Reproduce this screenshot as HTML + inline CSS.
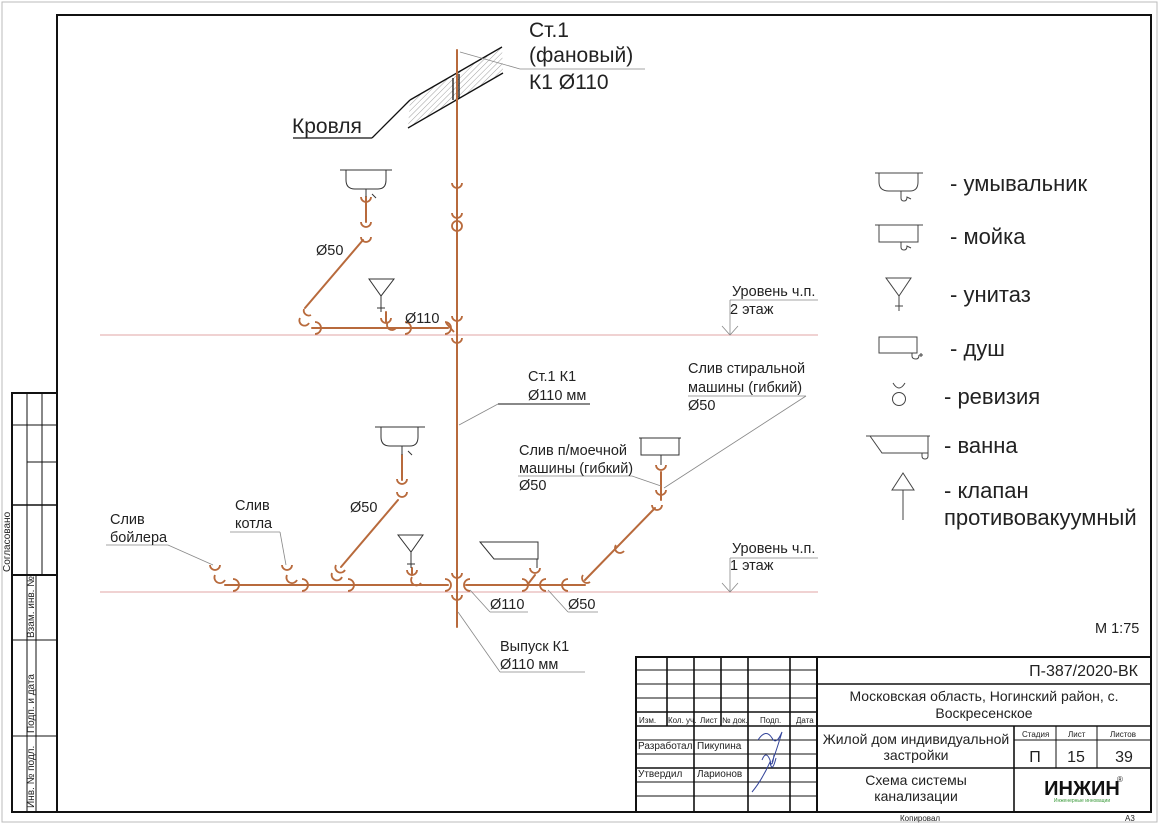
<!DOCTYPE html>
<html><head><meta charset="utf-8"><style>
html,body{margin:0;padding:0;background:#fff}
svg{display:block}
text{font-family:"Liberation Sans",sans-serif;fill:#222}
</style></head><body>
<svg width="1166" height="824" viewBox="0 0 1166 824" xmlns="http://www.w3.org/2000/svg">
<defs>
<pattern id="h" width="4" height="4" patternUnits="userSpaceOnUse" patternTransform="rotate(45)"><line x1="0" y1="0" x2="0" y2="4" stroke="#777" stroke-width="0.7"/></pattern>
</defs>
<rect x="0" y="0" width="1166" height="824" fill="#fff"/>
<rect x="2" y="2" width="1155" height="820" fill="none" stroke="#bbb" stroke-width="1"/>
<path d="M57 15 H1151 V812 H12 V393 H57 Z" fill="none" stroke="#111" stroke-width="2"/>
<line x1="57" y1="15" x2="57" y2="812" stroke="#111" stroke-width="2"/>
<g stroke="#111" stroke-width="1" fill="none">
<line x1="27" y1="393" x2="27" y2="812"/>
<line x1="42" y1="393" x2="42" y2="575"/>
<line x1="12" y1="575" x2="57" y2="575" stroke-width="2"/>
<line x1="12" y1="425" x2="57" y2="425"/>
<line x1="27" y1="462" x2="57" y2="462"/>
<line x1="12" y1="505" x2="57" y2="505" stroke-width="1.5"/>
<line x1="12" y1="640" x2="57" y2="640"/>
<line x1="12" y1="736" x2="57" y2="736"/>
<line x1="36" y1="575" x2="36" y2="812"/>
</g>
<g font-size="10">
<text transform="translate(10,572) rotate(-90)">Согласовано</text>
<text transform="translate(34,638) rotate(-90)">Взам. инв. №</text>
<text transform="translate(34,733) rotate(-90)">Подп. и дата</text>
<text transform="translate(34,808) rotate(-90)">Инв. № подл.</text>
</g>

<line x1="100" y1="335" x2="818" y2="335" stroke="#e2a6a6" stroke-width="1"/>
<line x1="100" y1="592" x2="818" y2="592" stroke="#e2a6a6" stroke-width="1"/>

<path d="M410 100 L502 47 L503 72 L408 128 Z" fill="url(#h)"/>
<g stroke="#111" stroke-width="1.3" fill="none">
<line x1="410" y1="100" x2="502" y2="47"/>
<line x1="408" y1="128" x2="503" y2="73"/>
<line x1="293" y1="138" x2="372" y2="138"/>
<line x1="372" y1="138" x2="410" y2="100"/>
<line x1="453" y1="78" x2="453" y2="100"/>
<line x1="459" y1="74" x2="459" y2="98"/>
</g>
<text x="292" y="133" font-size="21">Кровля</text>
<line x1="460" y1="52" x2="520" y2="69" stroke="#888" stroke-width="0.8"/>
<line x1="520" y1="69" x2="645" y2="69" stroke="#888" stroke-width="0.8"/>
<text x="529" y="37" font-size="21">Ст.1</text>
<text x="529" y="62" font-size="21">(фановый)</text>
<text x="529" y="89" font-size="21">К1 Ø110</text>

<g stroke="#b86a3c" stroke-width="2" fill="none" stroke-linecap="round">
<line x1="457" y1="50" x2="457" y2="627"/>
<line x1="312" y1="328" x2="448" y2="328"/>
<line x1="366" y1="197" x2="366" y2="222"/>
<line x1="363" y1="240" x2="305" y2="308"/>
<line x1="386" y1="312" x2="386" y2="322"/>
<line x1="225" y1="585" x2="448" y2="585"/>
<line x1="466" y1="585" x2="585" y2="585"/>
<line x1="402" y1="455" x2="402" y2="480"/>
<line x1="398" y1="500" x2="341" y2="567"/>
<line x1="412" y1="568" x2="412" y2="575"/>
<line x1="661" y1="472" x2="661" y2="500"/>
<line x1="655" y1="508" x2="585" y2="580"/>
<line x1="535" y1="575" x2="528" y2="584"/>
</g>
<g stroke="#b86a3c" stroke-width="1.8" fill="none">
<path d="M452 183 a5 5 0 0 0 10 0"/>
<path d="M452 213 a5 5 0 0 0 10 0"/>
<circle cx="457" cy="226" r="5"/>
<path d="M452 316 a5 5 0 0 0 10 0"/>
<path d="M452 338 a5 5 0 0 0 10 0"/>
<path d="M446 323 l8 9"/>
<path d="M361 197 a5 5 0 0 0 10 0"/>
<path d="M361 222 a5 5 0 0 0 10 0"/>
<path d="M361 237 a5 5 0 0 0 10 0"/>
<path d="M304 309 a5 5 0 0 0 7 6"/>
<path d="M300 318 a5 5 0 0 0 9 5"/>
<path d="M315 322 a6 6 0 0 1 0 12"/>
<path d="M381 318 a5 5 0 0 0 10 0"/>
<path d="M388 322 a5 5 0 0 0 8 6"/>
<path d="M405 322 a6 6 0 0 1 0 12"/>
<path d="M445 322 a6 6 0 0 1 0 12"/>
<path d="M452 573 a5 5 0 0 0 10 0"/>
<path d="M452 595 a5 5 0 0 0 10 0"/>
<path d="M445 579 a6 6 0 0 1 0 12"/>
<path d="M470 579 a6 6 0 0 0 0 12"/>
<path d="M397 479 a5 5 0 0 0 10 0"/>
<path d="M397 492 a5 5 0 0 0 10 0"/>
<path d="M336 565 a5 5 0 0 0 9 5"/>
<path d="M332 573 a5 5 0 0 0 10 4"/>
<path d="M348 579 a6 6 0 0 1 0 12"/>
<path d="M407 570 a5 5 0 0 0 10 0"/>
<path d="M412 577 a5 5 0 0 0 9 6"/>
<path d="M210 565 a5 5 0 0 0 10 0"/>
<path d="M215 575 a5 5 0 0 0 10 5"/>
<path d="M233 579 a6 6 0 0 1 0 12"/>
<path d="M282 565 a5 5 0 0 0 10 0"/>
<path d="M287 575 a5 5 0 0 0 10 5"/>
<path d="M302 579 a6 6 0 0 1 0 12"/>
<path d="M530 568 a5 5 0 0 0 10 0"/>
<path d="M522 579 a6 6 0 0 1 0 12"/>
<path d="M546 579 a6 6 0 0 0 0 12"/>
<path d="M568 579 a6 6 0 0 0 0 12"/>
<path d="M583 575 a5 5 0 0 0 7 7"/>
<path d="M616 545 a5 5 0 0 0 8 6"/>
<path d="M656 465 a5 5 0 0 0 10 0"/>
<path d="M656 490 a5 5 0 0 0 10 0"/>
<path d="M652 505 a5 5 0 0 0 10 0"/>
</g>

<g stroke="#333" stroke-width="1" fill="none">
<line x1="340" y1="170" x2="392" y2="170"/>
<path d="M346 170 V180 q0 9 9 9 H378 q8 0 8 -9 V170"/>
<line x1="366" y1="189" x2="366" y2="197"/>
<path d="M372 194 l4 4"/>
<path d="M369 279 H394 L381 296 Z"/>
<line x1="381" y1="296" x2="381" y2="312"/>
<line x1="377" y1="308" x2="385" y2="308"/>
<line x1="375" y1="427" x2="425" y2="427"/>
<path d="M381 427 V437 q0 9 9 9 H410 q8 0 8 -9 V427"/>
<line x1="402" y1="446" x2="402" y2="455"/>
<path d="M408 451 l4 4"/>
<path d="M398 535 H423 L411 552 Z"/>
<line x1="411" y1="552" x2="411" y2="568"/>
<line x1="407" y1="564" x2="415" y2="564"/>
<path d="M480 542 H538 V559 H494 Z"/>
<line x1="537" y1="559" x2="537" y2="568"/>
<line x1="639" y1="438" x2="681" y2="438"/>
<rect x="641" y="438" width="38" height="17"/>
<line x1="661" y1="455" x2="661" y2="465"/>
</g>

<g stroke="#888" stroke-width="0.8" fill="none">
<line x1="498" y1="404" x2="590" y2="404" stroke="#111" stroke-width="1"/>
<line x1="498" y1="404" x2="459" y2="425"/>
<line x1="688" y1="396" x2="806" y2="396"/>
<line x1="806" y1="396" x2="664" y2="488"/>
<line x1="518" y1="476" x2="632" y2="476"/>
<line x1="632" y1="476" x2="661" y2="486"/>
<line x1="106" y1="545" x2="168" y2="545"/>
<line x1="168" y1="545" x2="213" y2="565"/>
<line x1="230" y1="532" x2="280" y2="532"/>
<line x1="280" y1="532" x2="286" y2="565"/>
<line x1="470" y1="590" x2="490" y2="612"/>
<line x1="490" y1="612" x2="528" y2="612"/>
<line x1="548" y1="590" x2="568" y2="612"/>
<line x1="568" y1="612" x2="598" y2="612"/>
<line x1="458" y1="612" x2="500" y2="672"/>
<line x1="500" y1="672" x2="585" y2="672"/>
<line x1="730" y1="300" x2="818" y2="300"/>
<line x1="730" y1="300" x2="730" y2="335"/>
<path d="M722 326 L730 335 L738 326"/>
<line x1="730" y1="558" x2="818" y2="558"/>
<line x1="730" y1="558" x2="730" y2="592"/>
<path d="M722 583 L730 592 L738 583"/>
</g>

<g font-size="14.5">
<text x="732" y="296">Уровень ч.п.</text>
<text x="730" y="314">2 этаж</text>
<text x="732" y="553">Уровень ч.п.</text>
<text x="730" y="570">1 этаж</text>
<text x="528" y="381">Ст.1 К1</text>
<text x="528" y="400">Ø110 мм</text>
<text x="688" y="373">Слив стиральной</text>
<text x="688" y="392">машины (гибкий)</text>
<text x="688" y="410">Ø50</text>
<text x="519" y="455">Слив п/моечной</text>
<text x="519" y="473">машины (гибкий)</text>
<text x="519" y="490">Ø50</text>
<text x="110" y="524">Слив</text>
<text x="110" y="542">бойлера</text>
<text x="235" y="510">Слив</text>
<text x="235" y="528">котла</text>
<text x="350" y="512">Ø50</text>
<text x="316" y="255">Ø50</text>
<text x="405" y="323">Ø110</text>
<text x="490" y="609">Ø110</text>
<text x="568" y="609">Ø50</text>
<text x="500" y="651">Выпуск К1</text>
<text x="500" y="669">Ø110 мм</text>
<text x="1095" y="633">М 1:75</text>
</g>

<g stroke="#444" stroke-width="1" fill="none">
<line x1="875" y1="173" x2="923" y2="173"/>
<path d="M879 173 V182 q0 9 10 9 H910 q8 0 8 -9 V173"/>
<path d="M901 191 v7 q0 3 3 3 q3 0 3 -4 l4 2"/>
<line x1="875" y1="225" x2="923" y2="225"/>
<rect x="879" y="225" width="39" height="17"/>
<path d="M901 242 v5 q0 3 3 3 q3 0 3 -4 l4 2"/>
<path d="M886 278 H911 L899 296 Z"/>
<line x1="899" y1="296" x2="899" y2="311"/>
<line x1="895" y1="306" x2="903" y2="306"/>
<rect x="879" y="337" width="38" height="16"/>
<path d="M912 353 v3 q0 3 4 3 q3 0 3 -4 M919 355 h4 M921 353 v4"/>
<path d="M893 383 q6 10 12 0"/>
<circle cx="899" cy="399" r="6.5"/>
<line x1="866" y1="436" x2="930" y2="436"/>
<path d="M870 436 L882 453 H928 V436"/>
<path d="M922 453 v3 q0 3 3 3 q3 0 3 -3 v-3"/>
<path d="M892 490 L903 473 L914 490 Z"/>
<line x1="903" y1="490" x2="903" y2="520"/>
</g>
<g font-size="22">
<text x="950" y="191">- умывальник</text>
<text x="950" y="244">- мойка</text>
<text x="950" y="302">- унитаз</text>
<text x="950" y="356">- душ</text>
<text x="944" y="404">- ревизия</text>
<text x="944" y="453">- ванна</text>
<text x="944" y="498">- клапан</text>
<text x="944" y="525">противовакуумный</text>
</g>

<g stroke="#111" fill="none">
<rect x="636" y="657" width="515" height="155" stroke-width="2"/>
<line x1="817" y1="657" x2="817" y2="812" stroke-width="2"/>
<g stroke-width="1">
<line x1="636" y1="670" x2="817" y2="670"/>
<line x1="636" y1="684" x2="817" y2="684"/>
<line x1="636" y1="698" x2="817" y2="698"/>
<line x1="636" y1="740" x2="817" y2="740"/>
<line x1="636" y1="754" x2="817" y2="754"/>
<line x1="636" y1="782" x2="817" y2="782"/>
<line x1="636" y1="796" x2="817" y2="796"/>
<line x1="1014" y1="740" x2="1151" y2="740"/>
<line x1="1056" y1="726" x2="1056" y2="768"/>
<line x1="1097" y1="726" x2="1097" y2="768"/>
</g>
<g stroke-width="1.6">
<line x1="636" y1="712" x2="817" y2="712"/>
<line x1="636" y1="726" x2="1151" y2="726"/>
<line x1="636" y1="768" x2="1151" y2="768"/>
<line x1="817" y1="684" x2="1151" y2="684"/>
<line x1="1014" y1="726" x2="1014" y2="812"/>
<line x1="667" y1="657" x2="667" y2="726"/>
<line x1="694" y1="657" x2="694" y2="812"/>
<line x1="721" y1="657" x2="721" y2="726"/>
<line x1="748" y1="657" x2="748" y2="812"/>
<line x1="790" y1="657" x2="790" y2="812"/>
</g>
</g>
<g font-size="8">
<text x="639" y="723">Изм.</text><text x="668" y="723">Кол. уч.</text><text x="700" y="723">Лист</text><text x="722" y="723">№ док.</text><text x="760" y="723">Подп.</text><text x="796" y="723">Дата</text>
<text x="1022" y="737">Стадия</text><text x="1068" y="737">Лист</text><text x="1110" y="737">Листов</text>
<text x="900" y="821">Копировал</text><text x="1125" y="821">А3</text>
</g>
<g font-size="10">
<text x="638" y="749">Разработал</text><text x="697" y="749">Пикупина</text>
<text x="638" y="777">Утвердил</text><text x="697" y="777">Ларионов</text>
</g>
<path d="M758 740 q8 -12 14 -2 q4 8 10 -6 q-6 20 -10 30 M762 760 q4 -10 8 0 q2 10 4 -5 M752 792 q10 -12 18 -30 q2 12 6 -4" stroke="#33449a" stroke-width="1" fill="none"/>
<g font-size="14" text-anchor="middle">
<text x="1138" y="676" text-anchor="end" font-size="16">П-387/2020-ВК</text>
<text x="984" y="701">Московская область, Ногинский район, с.</text>
<text x="984" y="718">Воскресенское</text>
<text x="916" y="744">Жилой дом индивидуальной</text>
<text x="916" y="760">застройки</text>
<text x="916" y="785">Схема системы</text>
<text x="916" y="801">канализации</text>
<text x="1035" y="762" font-size="16">П</text>
<text x="1076" y="762" font-size="16">15</text>
<text x="1124" y="762" font-size="16">39</text>
</g>
<text x="1082" y="795" font-size="20" font-weight="bold" text-anchor="middle" style="fill:#111">ИНЖИН</text>
<text x="1117" y="782" font-size="8">®</text>
<text x="1082" y="802" font-size="5" text-anchor="middle" style="fill:#3a9a3a">Инженерные инновации</text>
</svg>
</body></html>
